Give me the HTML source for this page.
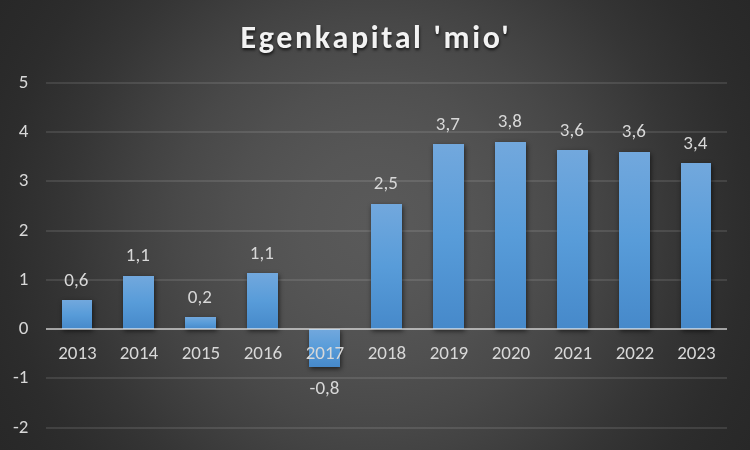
<!DOCTYPE html>
<html><head><meta charset="utf-8"><title>Egenkapital 'mio'</title>
<style>
html,body{margin:0;padding:0;background:#262626;}
#c{position:relative;width:750px;height:450px;overflow:hidden;
background:radial-gradient(circle farthest-corner at 50% 50%, rgb(89,89,89) 0%, rgb(88.5,88.5,88.5) 6%, rgb(86,86,86) 17%, rgb(83,83,83) 25%, rgb(79.5,79.5,79.5) 33%, rgb(77,77,77) 37%, rgb(75.5,75.5,75.5) 40%, rgb(72,72,72) 46%, rgb(69,69,69) 50%, rgb(67,67,67) 53%, rgb(61.5,61.5,61.5) 60%, rgb(57.5,57.5,57.5) 65%, rgb(53.5,53.5,53.5) 70%, rgb(49,49,49) 77%, rgb(44.5,44.5,44.5) 85%, rgb(42,42,42) 92%, rgb(40,40,40) 100%);}
#c svg{position:absolute;left:0;top:0;}
.t{opacity:0.995;} h1{will-change:transform;}
.t text{font-family:Carlito, "Liberation Sans", sans-serif;font-size:19px;fill:#d9d9d9;}
h1{position:absolute;left:0.6px;top:0;width:750px;margin:0;text-align:center;
font-family:Carlito, "Liberation Sans", sans-serif;font-weight:bold;font-size:32px;letter-spacing:2.64px;color:#f2f2f2;
line-height:38px;padding-top:18.5px;text-shadow:0.5px 2px 3px rgba(0,0,0,0.7);}
</style></head>
<body><div id="c">
<h1>Egenkapital 'mio'</h1>
<svg width="750" height="450" viewBox="0 0 750 450">
<defs>
<linearGradient id="bg" x1="0" y1="0" x2="0" y2="1">
<stop offset="0" stop-color="#72a8dd"/>
<stop offset="0.5" stop-color="#589cd9"/>
<stop offset="1" stop-color="#4689ca"/>
</linearGradient>
<filter id="sh" x="-50%" y="-50%" width="200%" height="200%"><feGaussianBlur stdDeviation="2.5"/></filter>
</defs>
<rect x="46" y="82" width="681" height="2" fill="#f2f2f2" fill-opacity="0.11"/><rect x="46" y="131" width="681" height="2" fill="#f2f2f2" fill-opacity="0.11"/><rect x="46" y="180" width="681" height="2" fill="#f2f2f2" fill-opacity="0.11"/><rect x="46" y="230" width="681" height="2" fill="#f2f2f2" fill-opacity="0.11"/><rect x="46" y="279" width="681" height="2" fill="#f2f2f2" fill-opacity="0.11"/><rect x="46" y="377" width="681" height="2" fill="#f2f2f2" fill-opacity="0.11"/><rect x="46" y="427" width="681" height="2" fill="#f2f2f2" fill-opacity="0.11"/><g filter="url(#sh)" transform="translate(1,2)"><rect x="62" y="300" width="30" height="29" fill="#000" fill-opacity="0.6"/><rect x="123" y="276" width="31" height="53" fill="#000" fill-opacity="0.6"/><rect x="185" y="317" width="31" height="12" fill="#000" fill-opacity="0.6"/><rect x="247" y="273" width="31" height="56" fill="#000" fill-opacity="0.6"/><rect x="309" y="329" width="31" height="38" fill="#000" fill-opacity="0.6"/><rect x="371" y="204" width="31" height="125" fill="#000" fill-opacity="0.6"/><rect x="433" y="144" width="31" height="185" fill="#000" fill-opacity="0.6"/><rect x="495" y="142" width="31" height="187" fill="#000" fill-opacity="0.6"/><rect x="557" y="150" width="31" height="179" fill="#000" fill-opacity="0.6"/><rect x="619" y="152" width="31" height="177" fill="#000" fill-opacity="0.6"/><rect x="681" y="163" width="30" height="166" fill="#000" fill-opacity="0.6"/></g><rect x="62" y="300" width="30" height="29" fill="url(#bg)"/><rect x="123" y="276" width="31" height="53" fill="url(#bg)"/><rect x="185" y="317" width="31" height="12" fill="url(#bg)"/><rect x="247" y="273" width="31" height="56" fill="url(#bg)"/><rect x="309" y="329" width="31" height="38" fill="url(#bg)"/><rect x="371" y="204" width="31" height="125" fill="url(#bg)"/><rect x="433" y="144" width="31" height="185" fill="url(#bg)"/><rect x="495" y="142" width="31" height="187" fill="url(#bg)"/><rect x="557" y="150" width="31" height="179" fill="url(#bg)"/><rect x="619" y="152" width="31" height="177" fill="url(#bg)"/><rect x="681" y="163" width="30" height="166" fill="url(#bg)"/><rect x="46" y="328" width="681" height="2" fill="#f2f2f2" fill-opacity="0.6"/><g class="t"><text x="28.5" y="88" text-anchor="end">5</text><text x="28.5" y="137" text-anchor="end">4</text><text x="28.5" y="186" text-anchor="end">3</text><text x="28.5" y="236" text-anchor="end">2</text><text x="28.5" y="285" text-anchor="end">1</text><text x="28.5" y="334" text-anchor="end">0</text><text x="28.5" y="383" text-anchor="end">-1</text><text x="28.5" y="433" text-anchor="end">-2</text></g><g class="t"><text x="77.5" y="359" text-anchor="middle">2013</text><text x="139.0" y="359" text-anchor="middle">2014</text><text x="201.0" y="359" text-anchor="middle">2015</text><text x="263.0" y="359" text-anchor="middle">2016</text><text x="325.0" y="359" text-anchor="middle">2017</text><text x="387.0" y="359" text-anchor="middle">2018</text><text x="449.0" y="359" text-anchor="middle">2019</text><text x="511.0" y="359" text-anchor="middle">2020</text><text x="573.0" y="359" text-anchor="middle">2021</text><text x="635.0" y="359" text-anchor="middle">2022</text><text x="696.5" y="359" text-anchor="middle">2023</text></g><g class="t"><text x="76.3" y="285.5" text-anchor="middle">0,6</text><text x="137.8" y="260.5" text-anchor="middle">1,1</text><text x="199.8" y="302.5" text-anchor="middle">0,2</text><text x="261.8" y="258.5" text-anchor="middle">1,1</text><text x="324.5" y="394" text-anchor="middle">-0,8</text><text x="385.8" y="188.5" text-anchor="middle">2,5</text><text x="447.8" y="129.5" text-anchor="middle">3,7</text><text x="509.8" y="126.7" text-anchor="middle">3,8</text><text x="571.8" y="135.5" text-anchor="middle">3,6</text><text x="633.8" y="136.9" text-anchor="middle">3,6</text><text x="695.3" y="148.5" text-anchor="middle">3,4</text></g>
</svg>
</div></body></html>
